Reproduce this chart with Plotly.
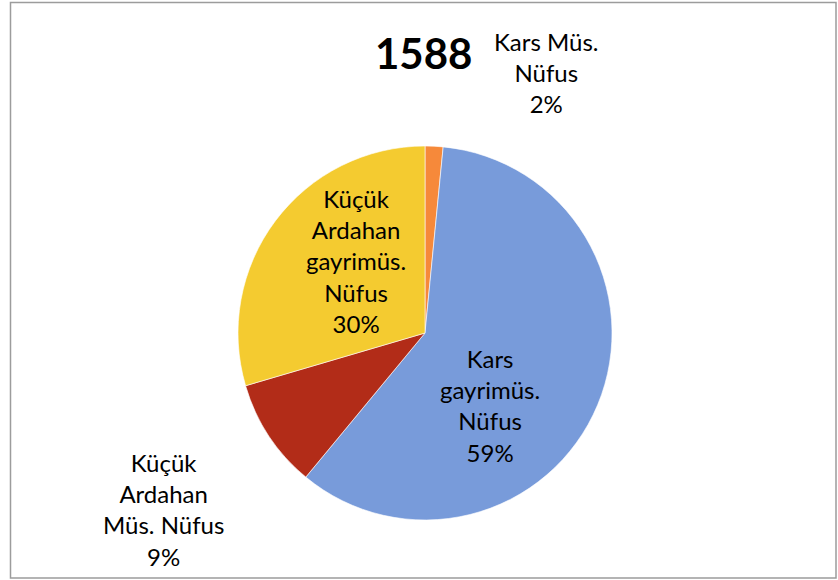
import plotly.graph_objects as go

W, H = 838, 580

title = "1588"
labels = ["Kars Müs. Nüfus", "Kars gayrimüs. Nüfus",
          "Küçük Ardahan Müs. Nüfus", "Küçük Ardahan gayrimüs. Nüfus"]
label_lines = ["Kars Müs.<br>Nüfus", "Kars<br>gayrimüs.<br>Nüfus",
               "Küçük<br>Ardahan<br>Müs. Nüfus", "Küçük<br>Ardahan<br>gayrimüs.<br>Nüfus"]
values = [1.55, 59.45, 9.45, 29.55]
colors = ["#F6893A", "#789BDA", "#B22C18", "#F4CB30"]

# label centres in pixels (x, y of the middle of the text block)
label_pos = [(546, 73), (490, 405), (163, 509), (356, 261)]

cx, cy, r = 425, 333, 187

fig = go.Figure(go.Pie(
    labels=labels,
    values=values,
    sort=False,
    direction="clockwise",
    rotation=0,
    marker=dict(colors=colors, line=dict(color="white", width=0.6)),
    textinfo="none",
    hoverinfo="label+percent",
    domain=dict(x=[(cx - r) / W, (cx + r) / W],
                y=[(H - cy - r) / H, (H - cy + r) / H]),
    showlegend=False,
))

total = sum(values)
for txt, v, (px_, py_) in zip(label_lines, values, label_pos):
    fig.add_annotation(
        x=px_ / W, y=1 - py_ / H, xref="paper", yref="paper",
        xanchor="center", yanchor="middle",
        text=f"{txt}<br>{round(v / total * 100)}%",
        showarrow=False, align="center",
        font=dict(family="Lato, Carlito, sans-serif", size=24, color="black"),
    )

fig.add_annotation(
    x=424 / W, y=1 - 53 / H, xref="paper", yref="paper",
    xanchor="center", yanchor="middle",
    text=f"<b>{title}</b>", showarrow=False,
    font=dict(family="Lato, Carlito, sans-serif", size=42, color="black"),
)

fig.add_shape(type="rect", xref="paper", yref="paper",
              x0=10.5 / W, x1=836 / W, y0=1 - 578 / H, y1=1 - 2.5 / H,
              line=dict(color="#9c9c9c", width=1.5))

fig.update_layout(
    width=W, height=H,
    margin=dict(l=0, r=0, t=0, b=0),
    paper_bgcolor="white", plot_bgcolor="white",
)

fig.write_html("out.html", config={"displayModeBar": False},
               post_script="document.body.style.margin='0';")
